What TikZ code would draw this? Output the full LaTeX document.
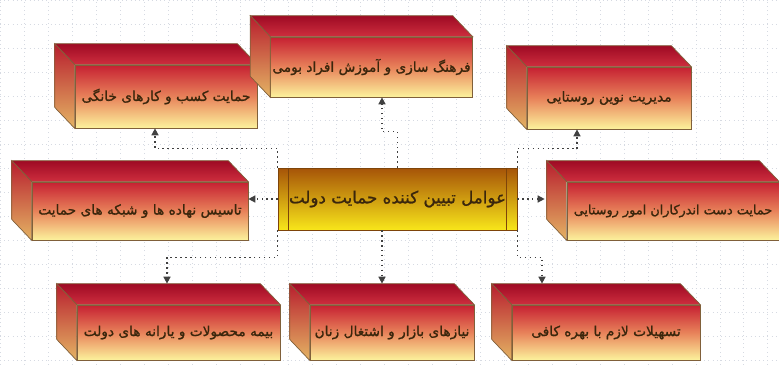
\documentclass[tikz,border=0pt]{standalone}
\usepackage{fontspec}
\newfontfamily\farsifont[Script=Arabic,FakeBold=1.2]{DejaVu Sans}
\TeXXeTstate=1
\usetikzlibrary{calc,arrows.meta}
\definecolor{facered}{RGB}{198,32,50}
\definecolor{facemid}{RGB}{232,130,90}
\definecolor{faceyellow}{RGB}{252,242,156}
\definecolor{topdark}{RGB}{158,10,36}
\definecolor{toplight}{RGB}{206,46,62}
\definecolor{sidetop}{RGB}{184,30,46}
\definecolor{sidebottom}{RGB}{228,180,100}
\definecolor{boxline}{RGB}{128,96,58}
\definecolor{goldtop}{RGB}{166,84,8}
\definecolor{goldbottom}{RGB}{248,230,26}
\definecolor{goldline}{RGB}{126,68,10}
\definecolor{inkbrown}{RGB}{58,38,12}
\definecolor{gridline}{RGB}{214,218,226}
% top and left faces of a factor box
\newcommand{\boxfaces}[1]{%
  \path[draw=boxline, top color=topdark, bottom color=toplight]
    (#1.north west) -- ++(-20,-21) -- ($(#1.north east)+(-20,-21)$) -- (#1.north east) -- cycle;
  \path[draw=boxline, top color=sidetop, bottom color=sidebottom]
    (#1.north west) -- ++(-20,-21) -- ($(#1.south west)+(-20,-21)$) -- (#1.south west) -- cycle;
}
\begin{document}
\begin{tikzpicture}
[x=0.02cm, y=-0.02cm,
 factor/.style={draw=boxline, top color=facered, bottom color=faceyellow, middle color=facemid,
   inner sep=1pt, text=inkbrown, font=\farsifont\fontsize{7.8}{9}\selectfont},
 keyfactor/.style={draw=goldline, top color=goldtop, bottom color=goldbottom,
   inner sep=1pt, text=inkbrown, font=\farsifont\fontsize{9.5}{11}\selectfont},
 link/.style={black!75, dotted, thick},
 >={Triangle[length=4pt,width=4pt]}]
\useasboundingbox (0,0) rectangle (779,365);
\draw[gridline, dotted, step=0.48cm] (0,0) grid (779,365);
% factor boxes
\node[factor, minimum width=3.64cm, minimum height=1.26cm] (kasb) at (166,96.5) {\beginR حمایت کسب و کارهای خانگی\endR};
\node[factor, minimum width=3.26cm, minimum height=1.2cm] (farhang) at (371.5,67) {\beginR فرهنگ سازی و آموزش افراد بومی\endR};
\node[factor, minimum width=3.28cm, minimum height=1.24cm] (modiriat) at (609,98) {\beginR مدیریت نوین روستایی\endR};
\node[factor, minimum width=4.32cm, minimum height=1.16cm] (tasis) at (140,211) {\beginR تاسیس نهاده ها و شبکه های حمایت\endR};
\node[factor, minimum width=4.24cm, minimum height=1.16cm, font=\farsifont\fontsize{7.3}{9}\selectfont] (dastan) at (673,211) {\beginR حمایت دست اندرکاران امور روستایی\endR};
\node[factor, minimum width=4.06cm, minimum height=1.1cm] (bime) at (178.5,332.5) {\beginR بیمه محصولات و یارانه های دولت\endR};
\node[factor, minimum width=3.28cm, minimum height=1.1cm] (niazha) at (392,332.5) {\beginR نیازهای بازار و اشتغال زنان\endR};
\node[factor, minimum width=3.76cm, minimum height=1.1cm] (tashilat) at (606,332.5) {\beginR تسهیلات لازم با بهره کافی\endR};
\boxfaces{kasb}
\boxfaces{farhang}
\boxfaces{modiriat}
\boxfaces{tasis}
\boxfaces{dastan}
\boxfaces{bime}
\boxfaces{niazha}
\boxfaces{tashilat}
% central box
\node[keyfactor, minimum width=4.78cm, minimum height=1.24cm] (avamel) at (397.5,199) {\beginR عوامل تبیین کننده حمایت دولت\endR};
\draw[goldline] ([xshift=0.22cm]avamel.north west) -- ([xshift=0.22cm]avamel.south west);
\draw[goldline] ([xshift=-0.22cm]avamel.north east) -- ([xshift=-0.22cm]avamel.south east);
% links
\draw[link,->] (avamel.north west) -- ++(0,-19) -| ($(kasb.south)+(-11,0)$);
\draw[link,->] (avamel.north) -- ++(0,-36) -| ($(farhang.south)+(10.5,0)$);
\draw[link,->] (avamel.north east) -- ++(0,-19) -| ($(modiriat.south)+(-32,0)$);
\draw[link,->] (avamel.west) -- (avamel.west -| tasis.east);
\draw[link,->] (avamel.east) -- ($(avamel.east -| dastan.west)+(-22,0)$);
\draw[link,->] (avamel.south west) -- ++(0,27) -| ($(bime.north)+(-11.5,-21)$);
\draw[link,->] ($(avamel.south)+(-15.5,0)$) -- ($(niazha.north)+(-10,-21)$);
\draw[link,->] (avamel.south east) -- ++(0,27) -| ($(tashilat.north)+(-64,-21)$);
\end{tikzpicture}
\end{document}
